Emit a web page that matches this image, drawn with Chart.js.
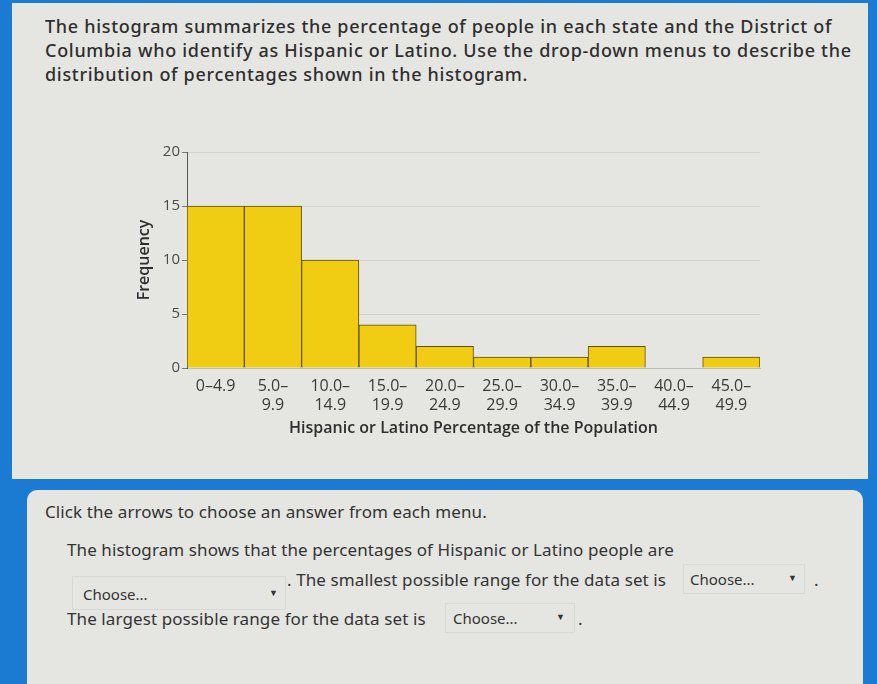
<!DOCTYPE html>
<html>
<head>
<meta charset="utf-8">
<script src="https://cdn.jsdelivr.net/npm/chart.js@4.4.1/dist/chart.umd.min.js"></script>
<style>
  html, body { margin: 0; padding: 0; }
  body { width: 877px; height: 684px; background: #1b7bd3; position: relative; overflow: hidden; font-family: "Noto Sans", sans-serif; color: #333; }
  .panel { position: absolute; left: 12px; top: 3px; width: 856px; height: 476px; background: #e5e6e2; }
  .question { position: absolute; left: 45px; top: 14px; font-size: 18px; line-height: 24px; font-weight: 500; color: #2e2e2e; letter-spacing: 0.7px; white-space: nowrap; }
  .card { position: absolute; left: 27px; top: 490px; width: 836px; height: 220px; background: #e5e6e2; border-radius: 10px; }
  .t { position: absolute; font-size: 17px; color: #333; white-space: nowrap; letter-spacing: 0.1px; }
  .sel { position: absolute; border: 1px solid #d8d8d4; font-size: 15px; color: #333; }
  .sel span { position: absolute; }
  .arrow { font-size: 9px; }
  #wrap { position: absolute; left: 110px; top: 130px; width: 670px; height: 320px; }
</style>
</head>
<body>
<div class="panel"></div>
<div class="question">The histogram summarizes the percentage of people in each state and the District of<br>Columbia who identify as Hispanic or Latino. Use the drop-down menus to describe the<br>distribution of percentages shown in the histogram.</div>
<div id="wrap"><canvas id="myChart"></canvas></div>
<div class="card"></div>
<div class="t" style="left:45px;top:500px;">Click the arrows to choose an answer from each menu.</div>
<div class="t" style="left:67px;top:538px;">The histogram shows that the percentages of Hispanic or Latino people are</div>
<div class="sel" style="left:72px;top:576px;width:212px;height:32px;"><span style="left:10px;top:7px;">Choose...</span><span class="arrow" style="left:196px;top:9px;">&#9660;</span></div>
<div class="t" style="left:287px;top:568px;">. The smallest possible range for the data set is</div>
<div class="sel" style="left:683px;top:564px;width:120px;height:28px;"><span style="left:6px;top:4px;">Choose...</span><span class="arrow" style="left:104px;top:6px;">&#9660;</span></div>
<div class="t" style="left:814px;top:568px;">.</div>
<div class="t" style="left:67px;top:607px;">The largest possible range for the data set is</div>
<div class="sel" style="left:445px;top:603px;width:128px;height:28px;"><span style="left:7px;top:4px;">Choose...</span><span class="arrow" style="left:110px;top:6px;">&#9660;</span></div>
<div class="t" style="left:578px;top:607px;">.</div>

<script>
// bins of the histogram
const binLabels = [
  "0–4.9",
  ["5.0–", "9.9"],
  ["10.0–", "14.9"],
  ["15.0–", "19.9"],
  ["20.0–", "24.9"],
  ["25.0–", "29.9"],
  ["30.0–", "34.9"],
  ["35.0–", "39.9"],
  ["40.0–", "44.9"],
  ["45.0–", "49.9"]
];
const frequencies = [15, 15, 10, 4, 2, 1, 1, 2, 0, 1];
const yTicks = [0, 5, 10, 15, 20];

const ctx = document.getElementById("myChart").getContext("2d");

new Chart(ctx, {
  type: "bar",
  data: {
    labels: binLabels,
    datasets: [{
      label: "Frequency",
      data: frequencies,
      backgroundColor: "#f0cc12",
      borderColor: "#5e5010",
      borderWidth: 1,
      barPercentage: 1,
      categoryPercentage: 1
    }]
  },
  options: {
    responsive: true,
    maintainAspectRatio: false,
    animation: false,
    layout: { padding: { top: 22, right: 20, left: 25, bottom: 0 } },
    plugins: {
      legend: { display: false },
      tooltip: { enabled: false }
    },
    scales: {
      x: {
        grid: { display: false },
        border: { color: "#bdbdbd" },
        ticks: {
          color: "#3a3a3a",
          font: { family: "Open Sans", size: 16 },
          maxRotation: 0,
          autoSkip: false,
          padding: 1
        },
        title: {
          display: true,
          text: "Hispanic or Latino Percentage of the Population",
          color: "#2e2e2e",
          font: { family: "Open Sans", size: 16, weight: "600" },
          padding: { top: 0, bottom: 12 }
        },
        afterFit: s => { s.height = 82; }
      },
      y: {
        min: 0,
        max: 20,
        afterBuildTicks: s => { s.ticks = yTicks.map(v => ({ value: v })); },
        grid: { color: "#d3d3d0", tickLength: 5, tickColor: "#777" },
        border: { color: "#555" },
        ticks: {
          color: "#4a4a4a",
          font: { family: "Open Sans", size: 15 },
          padding: 2
        },
        title: {
          display: true,
          text: "Frequency",
          color: "#2e2e2e",
          font: { family: "Open Sans", size: 16, weight: "600" },
          padding: 0
        },
        afterFit: s => { s.width = 52; }
      }
    }
  }
});
</script>
</body>
</html>
